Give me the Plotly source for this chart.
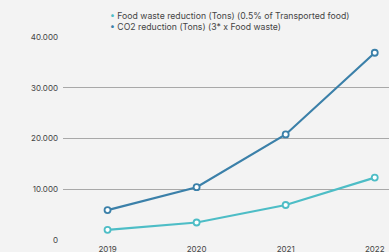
import plotly.graph_objects as go

years = ["2019", "2020", "2021", "2022"]
food_waste = [2000, 3450, 6900, 12300]
co2 = [5900, 10400, 20800, 36900]
names = ["Food waste reduction (Tons) (0.5% of Transported food)", "CO2 reduction (Tons) (3* x Food waste)"]
colors = ["#4dbdc6", "#3b80a9"]

fig = go.Figure()
for vals, col, name in [(food_waste, colors[0], names[0]), (co2, colors[1], names[1])]:
    fig.add_trace(go.Scatter(x=years, y=vals, mode="lines+markers", showlegend=False, name=name,
                             line=dict(color=col, width=2.2),
                             marker=dict(symbol="circle", size=6, color="white",
                                         line=dict(color=col, width=1.8)),
                             cliponaxis=False))

legend_text = "<br>".join(
    f"<span style='color:{c}'>•</span> {n}" for n, c in zip(names, colors)
)
fig.add_annotation(xref="paper", yref="paper", x=(108 - 63) / 326, y=1.0 + (37 - 9) / 203,
                   xanchor="left", yanchor="top", align="left", showarrow=False,
                   text=legend_text, font=dict(size=8.7, color="#444"))

fig.update_layout(
    width=389, height=252,
    margin=dict(l=63, r=0, t=37, b=12),
    paper_bgcolor="#f3f3f3", plot_bgcolor="#f3f3f3",
    separators=",.",
    showlegend=False,
    font=dict(family="Inter, Lato, sans-serif", size=8, color="#444"),
    xaxis=dict(type="category", range=[-0.5, 3.16], showgrid=False, zeroline=False,
               showline=False, ticks="", ticklabelstandoff=3, automargin=False,
               tickfont=dict(size=8, color="#444")),
    yaxis=dict(range=[0, 40000], dtick=10000, tickformat=",d", showgrid=True,
               gridcolor="#a8a8a8", gridwidth=1, zeroline=False, showline=False,
               ticks="", ticklabelstandoff=4, automargin=False,
               tickfont=dict(size=8, color="#444")),
)
fig.write_html("out.html", config={"displayModeBar": False},
               post_script="document.body.style.margin='0';document.body.style.background='#f3f3f3';")
